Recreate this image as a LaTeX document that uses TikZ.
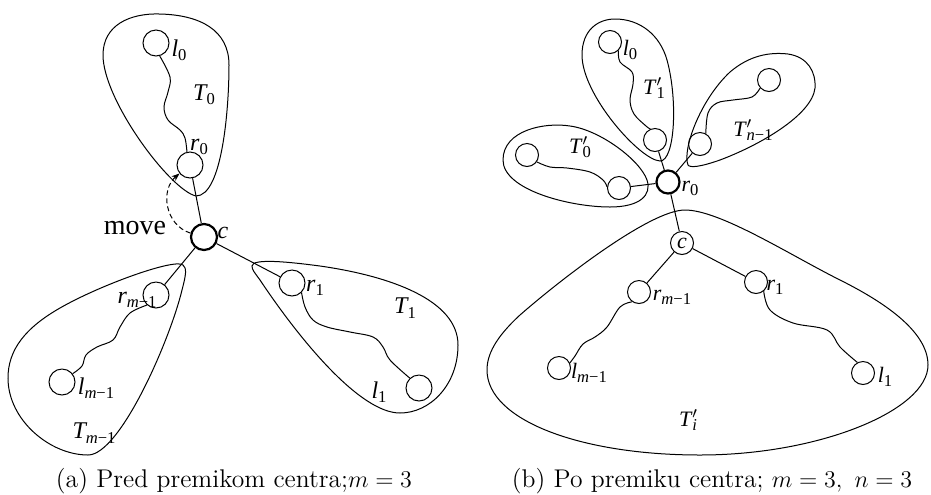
\documentclass[tikz,border=0pt]{standalone}
\usepackage{fontspec}
\usetikzlibrary{arrows.meta}
\newfontfamily\tms{Liberation Serif}
\newcommand\lsub[1]{\raisebox{-0.4ex}{\fontsize{8.3}{9}\selectfont #1}}
\newcommand\lab[2]{{\itshape #1}\lsub{#2}}
\newcommand\mone{{\itshape m}−1}
\newcommand\none{{\itshape n}−1}
\newcommand\tpr[1]{{\itshape T}\kern0.05em\rlap{$^{\prime}$}\lsub{#1}}
\begin{document}
\begin{tikzpicture}[x=0.5pt,y=-0.5pt,
  vtx/.style={circle,draw,line width=0.5pt,minimum size=13pt,inner sep=0pt},
  vtxb/.style={circle,draw,line width=0.5pt,minimum size=11.5pt,inner sep=0pt,font=\tms\itshape\fontsize{11}{12}\selectfont},
  hub/.style={line width=1.1pt},
  lbl/.style={inner sep=0pt,font=\tms\fontsize{12}{14}\selectfont},
  lblb/.style={inner sep=0pt,font=\tms\fontsize{11}{13}\selectfont},
  blob/.style={line width=0.5pt},
  wav/.style={line width=0.5pt},
  edge/.style={line width=0.5pt}]
\useasboundingbox (0,0) rectangle (931,494);

% ---------------- (a) ----------------
\node[vtx,hub] (c) at (204,237) {};
\node[vtx] (r0a) at (190,165) {};
\node[vtx] (l0a) at (156,43) {};
\node[vtx] (r1a) at (292,283) {};
\node[vtx] (l1a) at (419,388) {};
\node[vtx] (rma) at (156,295) {};
\node[vtx] (lma) at (62,382) {};

\draw[edge] (c) -- (r0a);
\draw[edge] (c) -- (r1a);
\draw[edge] (c) -- (rma);

\draw[wav] plot[smooth,tension=0.6] coordinates {(l0a.-74) (170,77) (168,92) (164,107) (168,120) (180,130) (185,138) (r0a.103)};
\draw[wav] plot[smooth,tension=0.6] coordinates {(r1a.-45) (305,307) (313,320) (327,327) (350,332) (373,337) (383,347) (390,360) (l1a.133)};
\draw[wav] plot[smooth,tension=0.6] coordinates {(rma.-132) (130,313) (120,327) (113,340) (97,347) (86,355) (82,366) (lma.38)};

% blobs (a)
\draw[blob] (196,196) .. controls (170,190) and (103,100) .. (103,55)
  .. controls (103,25) and (130,13) .. (160,14)
  .. controls (200,15) and (229,30) .. (229,65)
  .. controls (229,110) and (222,196) .. (196,196) -- cycle;
\draw[blob] (252,266) .. controls (252,258) and (290,262) .. (320,266)
  .. controls (390,276) and (458,300) .. (458,345)
  .. controls (458,385) and (430,413) .. (400,413)
  .. controls (360,413) and (300,340) .. (260,280)
  .. controls (255,273) and (252,270) .. (252,266) -- cycle;
\draw[blob] (183,265) .. controls (175,258) and (100,285) .. (60,308)
  .. controls (25,328) and (8,350) .. (8,378)
  .. controls (8,420) and (50,455) .. (88,455)
  .. controls (120,455) and (170,340) .. (182,290)
  .. controls (186,275) and (187,268) .. (183,265) -- cycle;

\draw[edge,dashed,dash pattern=on 2.5pt off 1.5pt,-{Stealth[length=4pt,width=3pt]}] (c.164) .. controls (165,225) and (160,190) .. (r0a.219);

\node[lbl] (lc) at (223,233) {\itshape c};
\node[lbl] (lr0a) at (199,147) {\lab{r}{0}};
\node[lbl] (ll0a) at (179,50) {\lab{l}{0}};
\node[lbl] (lT0) at (204,95) {\lab{T}{0}};
\node[lbl] (lr1a) at (315,288) {\lab{r}{1}};
\node[lbl] (ll1a) at (379,392) {\lab{l}{1}};
\node[lbl] (lT1) at (405,308) {\lab{T}{1}};
\node[lbl] (lrma) at (137,300) {\lab{r}{\mone}};
\node[lbl] (llma) at (96,388) {\lab{l}{\mone}};
\node[lbl] (lTm) at (94,433) {\lab{T}{\mone}};
\node[inner sep=0pt,font=\tms\fontsize{14}{16}\selectfont] (mv) at (135,228) {move};

% ---------------- (b) ----------------
\node[vtxb,hub] (r0b) at (668,182) {};
\node[vtxb] (l0b) at (610,42) {};
\node[vtxb] (n1b) at (655,140) {};
\node[vtxb] (nnb) at (700,144) {};
\node[vtxb] (ntb) at (769,80) {};
\node[vtxb] (n0l) at (527,155) {};
\node[vtxb] (n0r) at (619,188) {};
\node[vtxb] (cb) at (682,243) {c};
\node[vtxb] (rmb) at (639,292) {};
\node[vtxb] (r1b) at (756,282) {};
\node[vtxb] (lmb) at (559,368) {};
\node[vtxb] (l1b) at (863,373) {};

\draw[edge] (n1b) -- (r0b);
\draw[edge] (nnb) -- (r0b);
\draw[edge] (n0r) -- (r0b);
\draw[edge] (r0b) -- (cb);
\draw[edge] (cb) -- (rmb);
\draw[edge] (cb) -- (r1b);

\draw[wav] plot[smooth,tension=0.6] coordinates {(l0b.-45) (620,62) (632,72) (633,84) (630,100) (634,114) (646,126) (n1b.113)};
\draw[wav] plot[smooth,tension=0.6] coordinates {(ntb.-138) (752,97) (733,100) (717,103) (708,113) (nnb.61)};
\draw[wav] plot[smooth,tension=0.6] coordinates {(n0l.-35) (550,167) (567,168) (590,172) (603,180) (n0r.175)};
\draw[wav] plot[smooth,tension=0.6] coordinates {(rmb.-125) (620,307) (607,327) (595,337) (583,344) (575,356) (lmb.25)};
\draw[wav] plot[smooth,tension=0.6] coordinates {(r1b.-50) (770,310) (793,323) (827,330) (840,347) (l1b.118)};

% blobs (b)
\draw[blob] (660,161) .. controls (640,160) and (582,95) .. (582,55)
  .. controls (582,30) and (598,19) .. (615,19)
  .. controls (640,19) and (660,35) .. (667,60)
  .. controls (678,100) and (675,161) .. (660,161) -- cycle;
\draw[blob] (688,165) .. controls (682,150) and (700,100) .. (730,72)
  .. controls (750,55) and (770,52) .. (788,54)
  .. controls (808,57) and (816,72) .. (815,88)
  .. controls (812,115) and (760,145) .. (720,160)
  .. controls (700,167) and (690,168) .. (688,165) -- cycle;
\draw[blob] (503,160) .. controls (503,130) and (545,122) .. (570,126)
  .. controls (600,130) and (640,160) .. (647,180)
  .. controls (652,195) and (640,207) .. (610,207)
  .. controls (570,207) and (503,190) .. (503,160) -- cycle;
\draw[blob] (685,210) .. controls (650,210) and (560,280) .. (520,315)
  .. controls (495,338) and (487,355) .. (487,370)
  .. controls (487,420) and (580,455) .. (700,455)
  .. controls (820,455) and (928,410) .. (928,365)
  .. controls (928,330) and (880,300) .. (840,280)
  .. controls (790,255) and (720,210) .. (685,210) -- cycle;

\node[lblb] (ll0b) at (630,50) {\lab{l}{0}};
\node[lblb] (lT1p) at (654,88) {\tpr{1}};
\node[lblb] (lTnp) at (753,130) {\tpr{\none}};
\node[lblb] (lT0p) at (580,147) {\tpr{0}};
\node[lblb] (lr0b) at (690,188) {\lab{r}{0}};
\node[lblb] (lrmb) at (672,297) {\lab{r}{\mone}};
\node[lblb] (lr1b) at (775,287) {\lab{r}{1}};
\node[lblb] (llmb) at (589,373) {\lab{l}{\mone}};
\node[lblb] (ll1b) at (885,377) {\lab{l}{1}};
\node[lblb] (lTip) at (688,420) {\tpr{\itshape i}};

% captions
\node[anchor=base,inner sep=0pt,font=\fontsize{12.8}{15}\selectfont] (capa) at (234,487) {(a) Pred premikom centra;$m=3$};
\node[anchor=base,inner sep=0pt,font=\fontsize{12.8}{15}\selectfont] (capb) at (712,487) {(b) Po premiku centra; $m=3,\ n=3$};
\end{tikzpicture}
\end{document}
